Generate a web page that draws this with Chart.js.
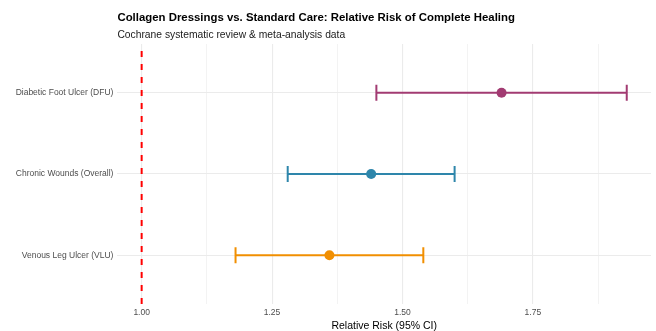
<!DOCTYPE html>
<html>
<head>
<meta charset="utf-8">
<script src="https://cdn.jsdelivr.net/npm/chart.js@4.4.1/dist/chart.umd.min.js"></script>
<style>
  html, body { margin: 0; padding: 0; background: #ffffff; }
  canvas { display: block; }
</style>
</head>
<body>
<canvas id="forestChart" width="656" height="331"></canvas>
<script>
// Forest plot data (bottom to top)
const categories = ['Venous Leg Ulcer (VLU)', 'Chronic Wounds (Overall)', 'Diabetic Foot Ulcer (DFU)'];
const relativeRisk = [1.36, 1.44, 1.69];
const ciLower = [1.18, 1.28, 1.45];
const ciUpper = [1.54, 1.60, 1.93];
const seriesColors = ['#F18F01', '#2E86AB', '#A23B72'];

// Axis ticks
const xMajorTicks = [1.00, 1.25, 1.50, 1.75];
const xMinorTicks = [1.125, 1.375, 1.625, 1.875];
const referenceRR = 1.0;

const FONT = "'Liberation Sans', Arial, Helvetica, sans-serif";
const GRID = '#ebebeb';

// Category positions on a numeric y axis (1..n)
const yPos = categories.map((_, i) => i + 1);

// --- datasets ---
const pointDataset = {
    label: 'Relative Risk',
    data: relativeRisk.map((v, i) => ({ x: v, y: yPos[i] })),
    backgroundColor: seriesColors,
    borderColor: seriesColors,
    pointRadius: 5,
    pointBorderWidth: 0,
    showLine: false
};

const ciDatasets = categories.map((c, i) => ({
    label: c + ' 95% CI',
    data: [{ x: ciLower[i], y: yPos[i] }, { x: ciUpper[i], y: yPos[i] }],
    showLine: true,
    borderColor: seriesColors[i],
    borderWidth: 2,
    pointStyle: 'line',
    rotation: 90,
    pointRadius: 8,
    pointBorderWidth: 2,
    pointBorderColor: seriesColors[i],
    pointBackgroundColor: seriesColors[i]
}));

const refDataset = {
    label: 'No effect',
    data: [{ x: referenceRR, y: categories.length + 0.6 }, { x: referenceRR, y: 0.4 }],
    showLine: true,
    borderColor: '#ff0000',
    borderWidth: 2,
    borderDash: [6, 7],
    borderDashOffset: 6,
    pointRadius: 0
};

// Title + subtitle, left aligned with the panel
const titlePlugin = {
    id: 'ggTitle',
    afterDraw(chart) {
        const ctx = chart.ctx;
        const left = chart.chartArea.left;
        ctx.save();
        ctx.textAlign = 'left';
        ctx.textBaseline = 'middle';
        ctx.fillStyle = '#000000';
        ctx.font = 'bold 11.4px ' + FONT;
        ctx.fillText('Collagen Dressings vs. Standard Care: Relative Risk of Complete Healing', left, 18);
        ctx.font = '10.3px ' + FONT;
        ctx.fillStyle = '#1a1a1a';
        ctx.fillText('Cochrane systematic review & meta-analysis data', left, 35);
        ctx.restore();
    }
};

function renderForestChart() {
    const ctx = document.getElementById('forestChart').getContext('2d');
    new Chart(ctx, {
        type: 'scatter',
        data: { datasets: [pointDataset, ...ciDatasets, refDataset] },
        options: {
            responsive: false,
            animation: false,
            layout: { autoPadding: false, padding: { top: 44, right: 5, left: 0, bottom: 0 } },
            plugins: {
                legend: { display: false },
                tooltip: { enabled: false },
                title: { display: false }
            },
            scales: {
                x: {
                    type: 'linear',
                    min: 0.9535,
                    max: 1.9765,
                    afterBuildTicks: axis => {
                        axis.ticks = xMajorTicks.concat(xMinorTicks)
                            .sort((a, b) => a - b)
                            .map(v => ({ value: v }));
                    },
                    afterFit: axis => { axis.height = 27; },
                    border: { display: false },
                    grid: {
                        color: GRID,
                        drawTicks: false,
                        lineWidth: c => xMajorTicks.includes(c.tick && c.tick.value) ? 1.1 : 0.6
                    },
                    ticks: {
                        autoSkip: false,
                        maxRotation: 0,
                        padding: 4,
                        color: '#4d4d4d',
                        font: { family: FONT, size: 8.5 },
                        callback: v => xMajorTicks.includes(v) ? v.toFixed(2) : ''
                    },
                    title: {
                        display: true,
                        text: 'Relative Risk (95% CI)',
                        color: '#000000',
                        font: { family: FONT, size: 10.5, lineHeight: 0.9 },
                        padding: { top: 0, bottom: 0 }
                    }
                },
                y: {
                    type: 'linear',
                    min: 0.4,
                    max: categories.length + 0.6,
                    afterBuildTicks: axis => {
                        axis.ticks = yPos.map(v => ({ value: v }));
                    },
                    afterFit: axis => { axis.width = 117.4; },
                    border: { display: false },
                    grid: { color: GRID, lineWidth: 1.1, drawTicks: false },
                    ticks: {
                        autoSkip: false,
                        padding: 4,
                        color: '#4d4d4d',
                        font: { family: FONT, size: 8.5 },
                        callback: v => categories[v - 1] || ''
                    }
                }
            }
        },
        plugins: [titlePlugin]
    });
}

window.onload = function() {
    renderForestChart();
};
</script>
</body>
</html>
